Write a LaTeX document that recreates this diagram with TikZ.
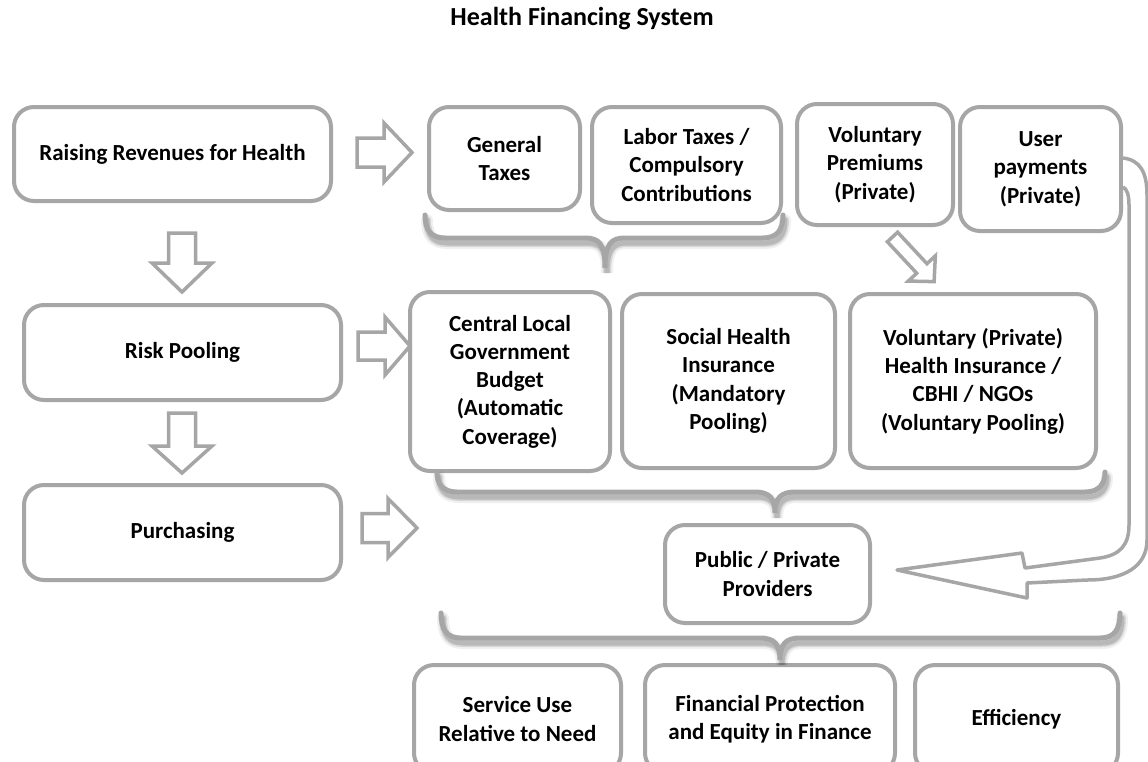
\documentclass[tikz,border=0pt]{standalone}
\usepackage{fontspec}
\setmainfont{Carlito}
\definecolor{edge}{HTML}{A6A6A6}

% block arrow: x, y (tail centre), angle, length, shaft half width, head length, head half width
\newcommand{\hfsarrow}[7]{%
  \draw[blk, shift={(#1,#2)}, rotate=#3]
    (0,-#5) -- ({#4-#6},-#5) -- ({#4-#6},-#7) -- (#4,0) -- ({#4-#6},#7) -- ({#4-#6},#5) -- (0,#5) -- cycle;}

% curly brace pointing down: left x, right x, top y, bar y, tip x, tip y
\newcommand{\hfsbrace}[6]{%
  \foreach \w/\o in {12/0.06, 8/0.10, 5/0.14}{%
    \draw[line width=\w pt, draw=black, opacity=\o, line cap=round, shift={(2,5)}]
      (#1,#3) .. controls (#1,{#4-8}) and ({#1+6},#4) .. ({#1+20},#4) -- ({#5-20},#4)
      .. controls ({#5-6},#4) and (#5,{#4+6}) .. (#5,#6)
      .. controls (#5,{#4+6}) and ({#5+6},#4) .. ({#5+20},#4) -- ({#2-20},#4)
      .. controls ({#2-6},#4) and (#2,{#4-8}) .. (#2,#3);}
  \draw[brace]
    (#1,#3) .. controls (#1,{#4-8}) and ({#1+6},#4) .. ({#1+20},#4) -- ({#5-20},#4)
    .. controls ({#5-6},#4) and (#5,{#4+6}) .. (#5,#6)
    .. controls (#5,{#4+6}) and ({#5+6},#4) .. ({#5+20},#4) -- ({#2-20},#4)
    .. controls ({#2-6},#4) and (#2,{#4-8}) .. (#2,#3);}

\tikzset{
  box/.style={draw=edge, line width=4pt, rounded corners=20pt, fill=white,
    align=center, text=black, inner sep=0pt,
    font=\bfseries\fontsize{23}{28.3}\selectfont},
  blk/.style={draw=edge, line width=3.5pt, fill=white, line join=miter},
  brace/.style={draw=edge, line width=5pt, line cap=round},
}

\begin{document}
\begin{tikzpicture}[x=1pt, y=-1pt]
\useasboundingbox (0,0) rectangle (1148,761);
\clip (0,0) rectangle (1148,761);
\fill[white] (0,0) rectangle (1148,761);

% title
\node[font=\bfseries\fontsize{26}{31}\selectfont, anchor=base] (title) at (582,25) {Health Financing System};

% functions of the financing system
\node[box, minimum width=317, minimum height=94] (rrh) at (172.5,154) {Raising Revenues for Health};
\node[box, minimum width=317, minimum height=95] (rp)  at (182.5,352.5) {Risk Pooling};
\node[box, minimum width=317, minimum height=95] (pur) at (182.5,532.5) {Purchasing};

% revenue sources
\node[box, minimum width=151, minimum height=103] (gt) at (504.5,158.5) {General\\Taxes};
\node[box, minimum width=189, minimum height=116] (lt) at (686.5,165) {Labor Taxes /\\Compulsory\\Contributions};
\node[box, minimum width=156, minimum height=121] (vp) at (875,164.5) {Voluntary\\Premiums\\(Private)};
\node[box, minimum width=161, minimum height=124] (up) at (1040.5,169) {User\\payments\\(Private)};

% pooling arrangements
\node[box, minimum width=200, minimum height=179] (clg) at (510,381.5) {Central Local\\Government\\Budget\\(Automatic\\Coverage)};
\node[box, minimum width=213, minimum height=174] (shi) at (728.5,381) {Social Health\\Insurance\\(Mandatory\\Pooling)};
\node[box, minimum width=246, minimum height=174] (vph) at (973,381) {Voluntary (Private)\\Health Insurance /\\CBHI / NGOs\\(Voluntary Pooling)};

% providers
\node[box, minimum width=205, minimum height=98] (ppp) at (767.5,574) {Public / Private\\Providers};

% outcomes
\node[box, minimum width=207, minimum height=108] (su)  at (517.5,719) {Service Use\\Relative to Need};
\node[box, minimum width=250, minimum height=108] (fp)  at (770,719) {Financial Protection\\and Equity in Finance};
\node[box, minimum width=203, minimum height=108] (eff) at (1016.5,719) {Efficiency};

% block arrows
\hfsarrow{357}{152.5}{0}{55}{14.5}{28}{29.5}
\hfsarrow{358}{346}{0}{52}{14}{25}{29}
\hfsarrow{362}{528}{0}{55}{14.5}{29}{29.5}
\hfsarrow{182}{233}{-90}{59}{13.5}{29}{30}
\hfsarrow{182}{413}{-90}{60}{13.5}{27}{30}
\hfsarrow{892.5}{237}{-47}{61}{7}{18}{18.5}

% braces
\hfsbrace{425}{783}{215}{238}{605}{268}
\hfsbrace{437}{1105}{472}{492}{775}{513}
\hfsbrace{441}{1120}{613}{638}{780}{660}

% out-of-pocket payments going straight to providers
\draw[blk, line join=round]
  (up.east |- 0,158) .. controls (1140,160) and (1147,172) .. (1147,195)
  -- (1147,540) .. controls (1147,566) and (1125,580) .. (1087,580)
  -- (1027,583) -- (1027,598) -- (897,570) -- (1022,553) -- (1025,568)
  -- (1100,558) .. controls (1120,555) and (1129,545) .. (1129,525)
  -- (1129,205) .. controls (1129,195) and (1127,189) .. (up.east |- 0,187);
\end{tikzpicture}
\end{document}
